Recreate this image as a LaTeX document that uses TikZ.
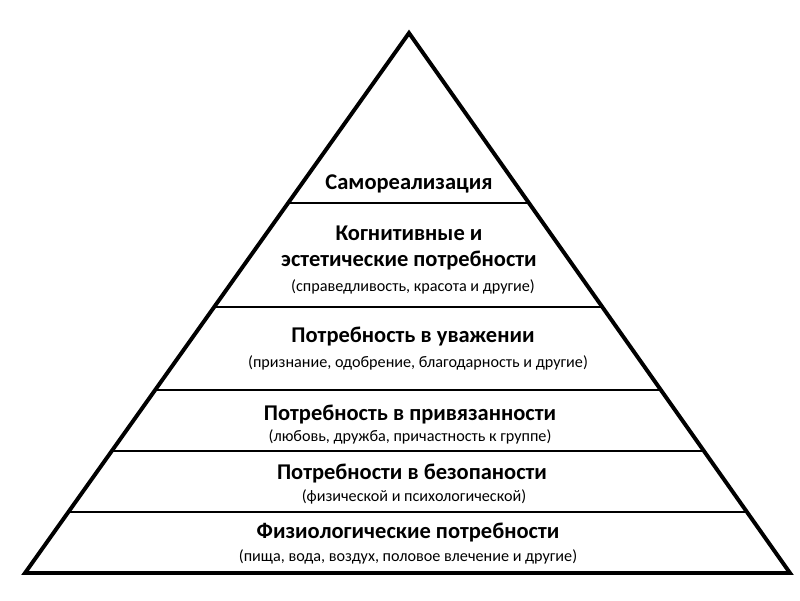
\documentclass[tikz,border=0pt]{standalone}
\usepackage{fontspec}
\setmainfont{Carlito}
\usetikzlibrary{positioning,calc}

\tikzset{
  heading/.style={font=\bfseries\fontsize{16}{18}\selectfont, inner sep=0pt},
  remark/.style={font=\fontsize{11.5}{13}\selectfont, inner sep=0pt},
  tier/.style={line width=2.1pt},
  outline/.style={line width=2.8pt, line join=miter},
}

\begin{document}
\begin{tikzpicture}[x=0.025cm, y=-0.025cm]
  \useasboundingbox (0,0) rectangle (800,600);

  % corners of the pyramid
  \coordinate (apex) at (409,33);
  \coordinate (bl) at (25,573);
  \coordinate (br) at (790,573);

  % levels, from top to bottom
  \foreach \t [count=\i] in {0.3148,0.5074,0.6611,0.7741,0.8870} {
    \coordinate (l\i) at ($(apex)!\t!(bl)$);
    \coordinate (r\i) at ($(apex)!\t!(br)$);
    \draw[tier] (l\i) -- (r\i);
  }
  \draw[outline] (apex) -- (bl) -- (br) -- cycle;

  % texts
  \node[heading] (self) at (409,184) {Самореализация};

  \node[heading] (cog) at (409,233) {Когнитивные и};
  \node[heading] (aes) at (409,261) {эстетические потребности};
  \node[remark] (aesx) at (413,287) {(справедливость, красота и другие)};

  \node[heading] (resp) at (413,337) {Потребность в уважении};
  \node[remark] (respx) at (418,363) {(признание, одобрение, благодарность и другие)};

  \node[heading] (love) at (410,415) {Потребность в привязанности};
  \node[remark] (lovex) at (410,437) {(любовь, дружба, причастность к группе)};

  \node[heading] (safe) at (412,474) {Потребности в безопаности};
  \node[remark] (safex) at (414,497) {(физической и психологической)};

  \node[heading] (phys) at (408,533) {Физиологические потребности};
  \node[remark] (physx) at (408,557) {(пища, вода, воздух, половое влечение и другие)};
\end{tikzpicture}
\end{document}
